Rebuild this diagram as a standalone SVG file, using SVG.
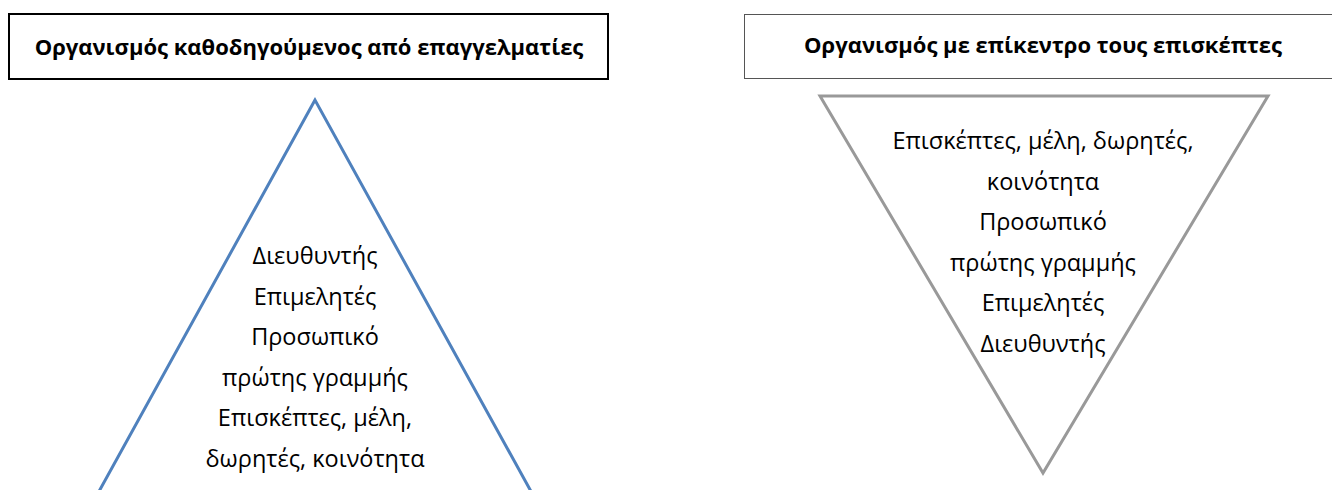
<svg xmlns="http://www.w3.org/2000/svg" width="1332" height="490" viewBox="0 0 1332 490">
<style>
.t{font-family:"Open Sans","Liberation Sans",sans-serif;font-size:23.5px;fill:#000;text-anchor:middle}
.h{font-family:"Open Sans","Liberation Sans",sans-serif;font-size:22px;font-weight:bold;fill:#000;text-anchor:middle}
</style>
<rect width="1332" height="490" fill="#fff"/>
<g id="title-left">
<rect x="9" y="14" width="599" height="65" fill="#fff" stroke="#000" stroke-width="2"/>
<text class="h" x="309" y="55">Οργανισμός καθοδηγούμενος από επαγγελματίες</text>
</g>
<g id="title-right">
<rect x="744.5" y="14.5" width="600" height="64" fill="#fff" stroke="#555" stroke-width="1"/>
<text class="h" x="1043" y="53">Οργανισμός με επίκεντρο τους επισκέπτες</text>
</g>
<g id="pyramid">
<polygon points="315,100 97,495 533,495" fill="none" stroke="#4F81BD" stroke-width="3"/>
<text class="t" x="315" y="264">Διευθυντής</text>
<text class="t" x="315" y="305">Επιμελητές</text>
<text class="t" x="315" y="345">Προσωπικό</text>
<text class="t" x="315" y="386">πρώτης γραμμής</text>
<text class="t" x="315" y="426">Επισκέπτες, μέλη,</text>
<text class="t" x="315" y="467">δωρητές, κοινότητα</text>
</g>
<g id="inverted-pyramid">
<polygon points="820,96 1268,96 1043,473" fill="none" stroke="#999" stroke-width="3"/>
<text class="t" x="1043" y="149">Επισκέπτες, μέλη, δωρητές,</text>
<text class="t" x="1043" y="190">κοινότητα</text>
<text class="t" x="1043" y="230">Προσωπικό</text>
<text class="t" x="1043" y="271">πρώτης γραμμής</text>
<text class="t" x="1043" y="311">Επιμελητές</text>
<text class="t" x="1043" y="352">Διευθυντής</text>
</g>
<g id="connectors"/>
</svg>
